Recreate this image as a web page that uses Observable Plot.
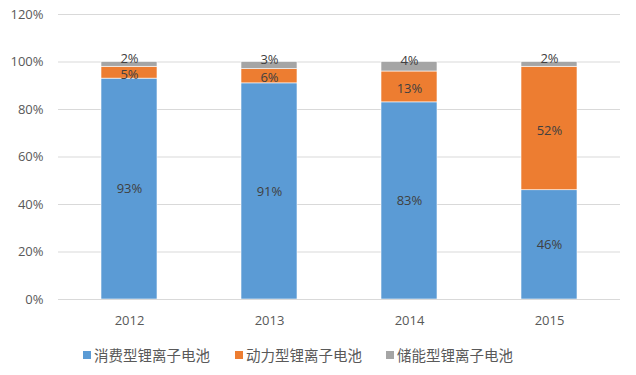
<!DOCTYPE html>
<html>
<head>
<meta charset="utf-8">
<script src="https://cdn.jsdelivr.net/npm/d3@7"></script>
<script src="https://cdn.jsdelivr.net/npm/@observablehq/plot@0.6"></script>
<style>
  body { margin: 0; background: #fff; font-family: "Open Sans", "Noto Sans CJK SC", sans-serif; }
  #legend { position: absolute; left: 0; top: 344px; font-family: "Noto Sans CJK SC", sans-serif; font-size: 14.5px; color: #595959; }
  .item { position: absolute; display: flex; align-items: center; white-space: nowrap; }
  .sw { width: 8px; height: 8px; margin-right: 3px; }
</style>
</head>
<body>
<div id="chart"></div>
<div id="legend"></div>
<script>
const years = ["2012", "2013", "2014", "2015"];
const types = ["消费型锂离子电池", "动力型锂离子电池", "储能型锂离子电池"];
const consumer = [93, 91, 83, 46];
const power = [5, 6, 13, 52];
const storage = [2, 3, 4, 2];
const yTicks = [0, 20, 40, 60, 80, 100, 120];
const colors = ["#5B9BD5", "#ED7D31", "#A5A5A5"];

const series = [consumer, power, storage];
const data = [];
years.forEach((yr, i) => {
  types.forEach((t, j) => data.push({year: yr, type: t, value: series[j][i]}));
});

const stacked = (extra) => Plot.stackY({x: "year", y: "value", z: "type", order: types, ...extra});

const chart = Plot.plot({
  width: 636,
  height: 340,
  marginLeft: 58,
  marginRight: 16,
  marginTop: 14,
  marginBottom: 41,
  style: {fontFamily: "'Open Sans', sans-serif", fontSize: "13px", color: "#595959"},
  x: {domain: years, paddingInner: 0.6, paddingOuter: 0.3, label: null, tickSize: 0, tickPadding: 16},
  y: {domain: [0, 120], label: null, ticks: yTicks, tickSize: 0, tickPadding: 15, tickFormat: d => d + "%"},
  color: {domain: types, range: colors},
  marks: [
    Plot.gridY(yTicks, {stroke: "#D9D9D9", strokeOpacity: 1}),
    Plot.barY(data, stacked({fill: "type", stroke: "white", strokeWidth: 0.6})),
    Plot.ruleY([0], {stroke: "#D9D9D9", strokeWidth: 1}),
    Plot.text(data, stacked({text: d => d.type === types[0] ? d.value + "%" : "", fill: "#404040", fontSize: 13})),
    Plot.text(data, stacked({text: d => d.type === types[1] ? d.value + "%" : "", fill: "#404040", fontSize: 13, dy: 2})),
    Plot.text(data, stacked({text: d => d.type === types[2] ? d.value + "%" : "", fill: "#404040", fontSize: 13, dy: -6}))
  ]
});
document.getElementById("chart").appendChild(chart);

const legend = document.getElementById("legend");
const lx = [83, 235, 386];
types.forEach((t, i) => {
  const it = document.createElement("div");
  it.className = "item";
  it.style.left = lx[i] + "px";
  it.innerHTML = `<span class="sw" style="background:${colors[i]}"></span><span>${t}</span>`;
  legend.appendChild(it);
});
</script>
</body>
</html>
